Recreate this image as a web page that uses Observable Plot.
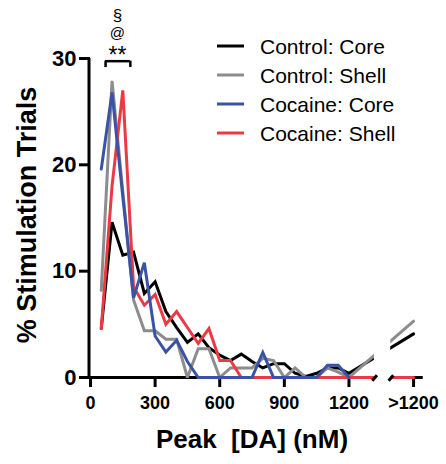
<!DOCTYPE html>
<html><head><meta charset="utf-8">
<script src="https://cdn.jsdelivr.net/npm/d3@7"></script>
<script src="https://cdn.jsdelivr.net/npm/@observablehq/plot@0.6"></script>
<style>
html,body{margin:0;padding:0;background:#fff;}
#chart{width:446px;height:464px;}
svg{font-family:"Liberation Sans",Arial,Helvetica,sans-serif;}
</style></head><body><div id="chart"></div>
<script>
// ---------- data ----------
const peakBins = [50,100,150,200,250,300,350,400,450,500,550,600,650,700,750,800,850,900,950,1000,1050,1100,1150,1200,">1200"];
const overflowPosition = 1500; // where the ">1200" bin sits on the axis
const xTickValues = [0,300,600,900,1200,">1200"];
const yTickValues = [0,10,20,30];
const seriesNames  = ["Control: Core","Control: Shell","Cocaine: Core","Cocaine: Shell"];
const seriesColors = ["#000000","#8c8c8c","#3a53a4","#ec3a44"];
const controlCore  = [4.6,14.6,11.5,11.8,7.9,9.0,6.2,4.7,3.3,4.1,2.8,2.1,1.6,2.2,1.5,0.9,1.3,1.3,0.4,0.1,0.4,0.9,0.9,0.4,4.1];
const controlShell = [8.2,27.9,17.5,7.3,4.4,4.4,3.6,3.6,0,2.7,2.7,0,0.9,0.9,0.9,1.8,1.6,0,0.9,0,0,0.9,0.5,0,5.3];
const cocaineCore  = [19.6,26.8,17.0,7.5,10.8,3.9,2.4,3.5,1.5,0,0,0,0,0,0,2.35,0,0,0,0,0,1.15,1.15,0,null];
const cocaineShell = [4.6,18.0,27.0,8.5,6.8,7.8,5.0,6.2,4.7,3.2,4.6,1.6,1.6,0,0,0,0,0,0,0,0,0,0,0,0];
const seriesValues = [controlCore, controlShell, cocaineCore, cocaineShell];
const drawOrder = [0,1,3,2];
const sigLabels = ["**","@","§"];
const bracketSpan = [70,185];   // nM
const bracketLevel = 29.75;
const axisBreak = {gapFrom:1318, gapTo:1394, axisEnd:1300, axisResume:1402, axisMax:1545};

const pos = b => b === ">1200" ? overflowPosition : b;
const rows = [];
for (const s of drawOrder) {
  peakBins.forEach((b,i) => rows.push({series: seriesNames[s], x: pos(b), y: seriesValues[s][i]}));
}

const font = '"Liberation Sans",Arial,Helvetica,sans-serif';
const plot = Plot.plot({
  width: 446, height: 464,
  marginLeft: 90, marginRight: 20, marginTop: 58, marginBottom: 87,
  style: {fontFamily: font, background: "white", overflow: "visible"},
  x: {domain: [0, 1560]},
  y: {domain: [0, 30]},
  color: {domain: seriesNames, range: seriesColors},
  marks: [
    Plot.axisY(yTickValues, {tickSize: 11, tickPadding: 3, fontSize: 22, fontWeight: "bold", strokeWidth: 3, label: null, color:"black"}),
    Plot.axisX(xTickValues.map(pos), {tickSize: 10, tickPadding: 9, fontSize: 18, fontWeight: "bold", strokeWidth: 3, label: null,
      tickFormat: d => d === overflowPosition ? ">1200" : String(d), color:"black"}),
    Plot.ruleX([0], {y1: 0, y2: 30, strokeWidth: 3, stroke: "black", dx: -1.5}),
    Plot.ruleY([0], {x1: -7, x2: axisBreak.axisEnd, strokeWidth: 3, stroke: "black"}),
    Plot.ruleY([0], {x1: axisBreak.axisResume, x2: axisBreak.axisMax, strokeWidth: 3, stroke: "black"}),
    Plot.line(rows, {x: "x", y: "y", z: "series", stroke: "series", strokeWidth: 3, strokeLinejoin: "miter", strokeMiterlimit: 3}),
    Plot.rect([axisBreak], {x1: "gapFrom", x2: "gapTo", y1: -0.6, y2: 31, fill: "white"}),
    Plot.link([axisBreak.gapFrom, axisBreak.gapTo], {x1: d => d - 10, x2: d => d + 12, y1: -0.3, y2: 0.22, strokeWidth: 3, stroke: "black"}),
    // significance bracket
    Plot.ruleY([bracketLevel], {x1: bracketSpan[0], x2: bracketSpan[1], strokeWidth: 2.5, stroke: "black"}),
    Plot.ruleX(bracketSpan, {y1: bracketLevel - 0.6, y2: bracketLevel, strokeWidth: 2.5, stroke: "black"})
  ]
});
document.getElementById("chart").appendChild(plot);

const svg = d3.select(plot);
svg.selectAll('[aria-label="y-axis tick label"]').attr("font-size", 22).attr("font-weight", "bold");
svg.selectAll('[aria-label="x-axis tick label"]').attr("font-size", 18).attr("font-weight", "bold");
const sx = plot.scale("x"), sy = plot.scale("y");
const cx = sx.apply((bracketSpan[0] + bracketSpan[1]) / 2);
const by = sy.apply(bracketLevel);
// significance symbols
const sigSpecs = [{dy: 2, size: 23}, {dy: -23, size: 15}, {dy: -40, size: 17}];
sigLabels.forEach((t, i) => {
  svg.append("text").attr("x", cx).attr("y", by + sigSpecs[i].dy).attr("text-anchor", "middle")
    .attr("font-size", sigSpecs[i].size).attr("font-family", font).text(t);
});

// axis titles
svg.append("text").attr("x", 252).attr("y", 448).attr("text-anchor", "middle")
  .attr("font-size", 26).attr("font-weight", "bold").attr("font-family", font).style("white-space","pre").text("Peak  [DA] (nM)");
svg.append("text").attr("transform", "translate(36,215) rotate(-90)").attr("text-anchor", "middle")
  .attr("font-size", 27).attr("font-weight", "bold").attr("font-family", font).text("% Stimulation Trials");

// legend
const lg = svg.append("g");
seriesNames.forEach((n, i) => {
  const y = 46 + i * 29;
  lg.append("line").attr("x1", 217).attr("x2", 244).attr("y1", y).attr("y2", y)
    .attr("stroke", seriesColors[i]).attr("stroke-width", 3);
  lg.append("text").attr("x", 260).attr("y", y + 7.5).attr("text-anchor", "start")
    .attr("font-size", 21).attr("font-family", font).text(n);
});
</script></body></html>
